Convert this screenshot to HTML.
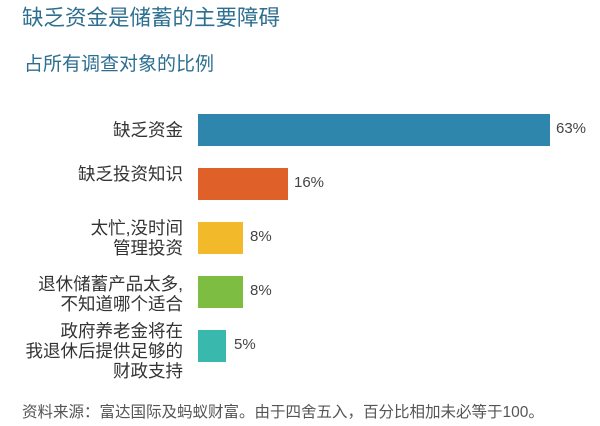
<!DOCTYPE html>
<html><head><meta charset="utf-8"><style>
body{margin:0;width:600px;height:426px;background:#fff;position:relative;overflow:hidden;font-family:"Liberation Sans","Noto Sans CJK SC",sans-serif}
.a{position:absolute;white-space:nowrap}
.t{left:22px;top:1px;font-size:21.5px;color:#2d6f90}
.s{left:24px;top:49px;font-size:19px;color:#2d6f90}
.l{right:417px;text-align:right;font-size:17.5px;line-height:20px;color:#333}
.b{position:absolute;left:198px;height:32px}
.v{font-size:15px;color:#444}
.f{left:22px;top:400px;font-size:15.5px;color:#555}
</style></head><body>
<div class="a t">缺乏资金是储蓄的主要障碍</div>
<div class="a s">占所有调查对象的比例</div>
<div class="a l" style="top:120px">缺乏资金</div>
<div class="a l" style="top:164px">缺乏投资知识</div>
<div class="a l" style="top:218px">太忙,没时间<br>管理投资</div>
<div class="a l" style="top:274px">退休储蓄产品太多,<br>不知道哪个适合</div>
<div class="a l" style="top:321px">政府养老金将在<br>我退休后提供足够的<br>财政支持</div>
<div class="b" style="top:114px;width:352px;background:#2e86ad"></div>
<div class="b" style="top:168px;width:90px;background:#df6129"></div>
<div class="b" style="top:222px;width:45px;background:#f2b92a"></div>
<div class="b" style="top:276px;width:45px;background:#7dbd42"></div>
<div class="b" style="top:330px;width:28px;background:#39b8ad"></div>
<div class="a v" style="left:556px;top:120px">63%</div>
<div class="a v" style="left:294px;top:174px">16%</div>
<div class="a v" style="left:250px;top:228px">8%</div>
<div class="a v" style="left:250px;top:282px">8%</div>
<div class="a v" style="left:234px;top:336px">5%</div>
<div class="a f">资料来源：富达国际及蚂蚁财富。由于四舍五入，百分比相加未必等于100。</div>
</body></html>
